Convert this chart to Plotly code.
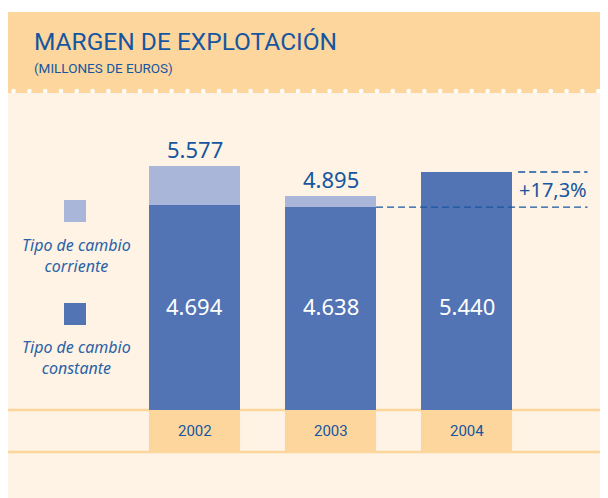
import plotly.graph_objects as go

# ---- data ----
years = ["2002", "2003", "2004"]
constante = [4694, 4638, 5440]          # Tipo de cambio constante
corriente = [5577, 4895, None]          # Tipo de cambio corriente (total)
title = "MARGEN DE EXPLOTACIÓN"
subtitle = "(MILLONES DE EUROS)"
legend_labels = ["Tipo de cambio<br>corriente", "Tipo de cambio<br>constante"]

OFF = 8                      # page body margin
W, H = 608 - OFF, 498 - OFF  # figure size
ORANGE = "#FDD69D"
PANEL = "#FEF3E4"
DARK = "#5374B4"
LIGHT = "#A9B6DA"
BLUE = "#1656A0"
TEXTBLUE = "#2A62A8"
COND = "Roboto, Liberation Sans Narrow, sans-serif"
NUM = "Noto Sans, Open Sans, sans-serif"

def fx(p):  # reference page pixel -> paper
    return (p - OFF) / W

def fy(p):
    return 1 - (p - OFF) / H

def fmt(v):
    return f"{v:,}".replace(",", ".")

increment = [(c - k) if c is not None else 0 for c, k in zip(corriente, constante)]
idx = list(range(len(years)))

# axis geometry: 0 at page pixel 410, 5577 at page pixel 166
base_px, top_px = 410 - OFF, 166 - OFF
scale = (base_px - top_px) / 5577.0
y0 = -(H - base_px) / scale
y1 = base_px / scale
bar_w = 0.67
cat_step = 136.0
x_first = 194.5 - OFF
x0 = -x_first / cat_step
x1 = x0 + W / cat_step

fig = go.Figure()
fig.add_trace(go.Bar(x=idx, y=constante, marker=dict(color=DARK, line=dict(width=0)),
                     width=bar_w, name="constante", hoverinfo="skip"))
fig.add_trace(go.Bar(x=idx, y=increment, marker=dict(color=LIGHT, line=dict(width=0)),
                     width=bar_w, name="corriente", hoverinfo="skip"))

shapes = []
shapes.append(dict(type="rect", xref="paper", yref="paper", x0=0, x1=1, y0=fy(12), y1=fy(93),
                   fillcolor=ORANGE, line=dict(width=0), layer="below"))
shapes.append(dict(type="rect", xref="paper", yref="paper", x0=0, x1=1, y0=0, y1=fy(93),
                   fillcolor=PANEL, line=dict(width=0), layer="below"))
xd = 13.6
while xd < 608:
    shapes.append(dict(type="circle", xref="paper", yref="paper",
                       x0=fx(xd - 2.3), x1=fx(xd + 2.3), y0=fy(91 + 2.3), y1=fy(91 - 2.3),
                       fillcolor="white", line=dict(width=0), layer="below"))
    xd += 15.8
for i in idx:
    shapes.append(dict(type="rect", xref="x", yref="paper", x0=i - bar_w / 2, x1=i + bar_w / 2,
                       y0=fy(452), y1=fy(410), fillcolor=ORANGE, line=dict(width=0), layer="below"))
for yy in (410, 452):
    shapes.append(dict(type="line", xref="paper", yref="paper", x0=0, x1=1, y0=fy(yy), y1=fy(yy),
                       line=dict(color=ORANGE, width=2.5), layer="below"))
shapes.append(dict(type="line", xref="x", yref="y", x0=1 + bar_w / 2, x1=2.89,
                   y0=constante[1], y1=constante[1], line=dict(color=BLUE, width=1.4, dash="7px,4px")))
shapes.append(dict(type="line", xref="x", yref="y", x0=2 + bar_w / 2 + 0.045, x1=2.89,
                   y0=constante[2], y1=constante[2], line=dict(color=BLUE, width=1.4, dash="7px,4px")))
for cy, col in ((211, LIGHT), (314, DARK)):
    shapes.append(dict(type="rect", xref="paper", yref="paper", x0=fx(64), x1=fx(86),
                       y0=fy(cy + 11), y1=fy(cy - 11), fillcolor=col, line=dict(width=0)))

ann = []
ann.append(dict(text=title, xref="paper", yref="paper", x=fx(31.5), y=fy(42), xanchor="left",
                yanchor="middle", showarrow=False, font=dict(family=COND, size=24.5, color=BLUE)))
ann.append(dict(text=subtitle, xref="paper", yref="paper", x=fx(31.5), y=fy(68), xanchor="left",
                yanchor="middle", showarrow=False, font=dict(family=COND, size=13.5, color=BLUE)))
for i in idx:
    ann.append(dict(text=years[i], xref="x", yref="paper", x=i, y=fy(431), xanchor="center",
                    yanchor="middle", showarrow=False, font=dict(family=COND, size=15, color=BLUE)))
    ann.append(dict(text=fmt(constante[i]), xref="x", yref="paper", x=i, y=fy(306), xanchor="center",
                    yanchor="middle", showarrow=False, font=dict(family=NUM, size=22, color="white")))
    if corriente[i] is not None:
        ann.append(dict(text=fmt(corriente[i]), xref="x", yref="y", x=i, y=corriente[i],
                        xanchor="center", yanchor="bottom", yshift=0, showarrow=False,
                        font=dict(family=NUM, size=22, color=BLUE)))
pct = (constante[2] / constante[1] - 1) * 100
ann.append(dict(text="+" + f"{pct:.1f}".replace(".", ",") + "%", xref="x", yref="y",
                x=(2 + bar_w / 2 + 2.89) / 2 + 0.02, y=(constante[1] + constante[2]) / 2,
                xanchor="center", yanchor="middle", showarrow=False,
                font=dict(family=NUM, size=20, color=BLUE)))
for lbl, cy in zip(legend_labels, (255, 357)):
    ann.append(dict(text="<i>" + lbl + "</i>", xref="paper", yref="paper", x=fx(76), y=fy(cy),
                    xanchor="center", yanchor="middle", showarrow=False, align="center",
                    font=dict(family=NUM, size=16, color=TEXTBLUE)))

fig.update_layout(
    width=W, height=H, margin=dict(l=0, r=0, t=0, b=0),
    paper_bgcolor="white", plot_bgcolor="rgba(0,0,0,0)",
    barmode="stack", bargap=0, showlegend=False,
    xaxis=dict(range=[x0, x1], visible=False, fixedrange=True),
    yaxis=dict(range=[y0, y1], visible=False, fixedrange=True),
    shapes=shapes, annotations=ann,
)
fig.write_html("out.html")
